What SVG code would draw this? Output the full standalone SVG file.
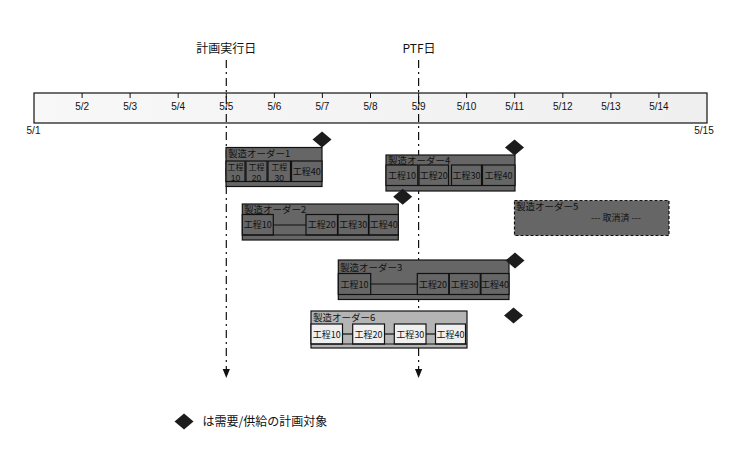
<svg xmlns="http://www.w3.org/2000/svg" xmlns:xlink="http://www.w3.org/1999/xlink" width="754" height="461" viewBox="0 0 754 461">
<style>
  .ax { font-family: "Liberation Sans", Arial, sans-serif; font-size: 10px; fill: #111; text-anchor: middle; }
  .hd { font-family: "Noto Sans CJK JP", "Liberation Sans", sans-serif; font-size: 12px; fill: #111; text-anchor: middle; }
  .ttl { font-family: "Noto Sans CJK JP", "Liberation Sans", sans-serif; font-size: 9.5px; fill: #111; }
  .op { font-family: "Noto Sans CJK JP", "Liberation Sans", sans-serif; font-size: 9px; fill: #111; text-anchor: middle; }
  .op2 { font-family: "Noto Sans CJK JP", "Liberation Sans", sans-serif; font-size: 8px; fill: #111; text-anchor: middle; }
  .num { font-family: "Liberation Sans", Arial, sans-serif; font-size: 8.5px; fill: #111; text-anchor: middle; }
  .lg { font-family: "Noto Sans CJK JP", "Liberation Sans", sans-serif; font-size: 12px; fill: #111; }
  .box { fill: #666666; stroke: #111; stroke-width: 1.2; }
  .boxl { fill: #b4b4b4; stroke: #111; stroke-width: 1.2; }
  .cancel { fill: #666666; stroke: #111; stroke-width: 1.2; stroke-dasharray: 3 2; }
  .opr { fill: #666666; stroke: #111; stroke-width: 1.2; }
  .oprl { fill: #efefef; stroke: #111; stroke-width: 1.2; }
  .sep { stroke: #111; stroke-width: 1.2; fill: none; }
  .link { stroke: #111; stroke-width: 1.2; fill: none; }
  .guide { stroke: #111; stroke-width: 1.2; fill: none; stroke-dasharray: 8 4 2 4; }
  .tick { stroke: #111; stroke-width: 1; }
  .dia { fill: #1c1c1c; }
</style>
<defs>
  <linearGradient id="axg" x1="0" y1="0" x2="1" y2="0">
    <stop offset="0" stop-color="#f8f8f8"/>
    <stop offset="1" stop-color="#efefef"/>
  </linearGradient>
  <path id="dia" d="M0,-8 L9.5,0 L0,8 L-9.5,0 Z"/>
  <marker id="arr" markerUnits="userSpaceOnUse" markerWidth="10" markerHeight="10" refX="9" refY="0" viewBox="0 -4 10 8" orient="auto">
    <path d="M0,-3.6 L9,0 L0,3.6 Z" fill="#111"/>
  </marker>
</defs>

<g id="axis">
  <rect x="34" y="93" width="673" height="30" fill="url(#axg)" stroke="#111" stroke-width="1.2"/>
  <g class="tick">
    <line x1="82.1" y1="93" x2="82.1" y2="98"/>
    <line x1="130.1" y1="93" x2="130.1" y2="98"/>
    <line x1="178.2" y1="93" x2="178.2" y2="98"/>
    <line x1="226.3" y1="93" x2="226.3" y2="98"/>
    <line x1="274.4" y1="93" x2="274.4" y2="98"/>
    <line x1="322.4" y1="93" x2="322.4" y2="98"/>
    <line x1="370.5" y1="93" x2="370.5" y2="98"/>
    <line x1="418.6" y1="93" x2="418.6" y2="98"/>
    <line x1="466.6" y1="93" x2="466.6" y2="98"/>
    <line x1="514.7" y1="93" x2="514.7" y2="98"/>
    <line x1="562.8" y1="93" x2="562.8" y2="98"/>
    <line x1="610.9" y1="93" x2="610.9" y2="98"/>
    <line x1="658.9" y1="93" x2="658.9" y2="98"/>
  </g>
  <text class="ax" x="82.1" y="110">5/2</text>
  <text class="ax" x="130.1" y="110">5/3</text>
  <text class="ax" x="178.2" y="110">5/4</text>
  <text class="ax" x="226.3" y="110">5/5</text>
  <text class="ax" x="274.4" y="110">5/6</text>
  <text class="ax" x="322.4" y="110">5/7</text>
  <text class="ax" x="370.5" y="110">5/8</text>
  <text class="ax" x="418.6" y="110">5/9</text>
  <text class="ax" x="466.6" y="110">5/10</text>
  <text class="ax" x="514.7" y="110">5/11</text>
  <text class="ax" x="562.8" y="110">5/12</text>
  <text class="ax" x="610.9" y="110">5/13</text>
  <text class="ax" x="658.9" y="110">5/14</text>
  <text class="ax" x="33.5" y="134">5/1</text>
  <text class="ax" x="704" y="134">5/15</text>
</g>

<g id="guides">
  <text class="hd" x="226.3" y="53">計画実行日</text>
  <text class="hd" x="419" y="53">PTF日</text>
  <line class="guide" x1="226.3" y1="60" x2="226.3" y2="378" marker-end="url(#arr)"/>
  <line class="guide" x1="418.6" y1="60" x2="418.6" y2="378" marker-end="url(#arr)"/>
</g>

<g id="order1">
  <rect class="box" x="226" y="147.5" width="96" height="39"/>
  <text class="ttl" x="228" y="157">製造オーダー1</text>
  <rect class="opr" x="226" y="161" width="19" height="20.5"/>
  <rect class="opr" x="246" y="161" width="21" height="20.5"/>
  <rect class="opr" x="268" y="161" width="22.5" height="20.5"/>
  <rect class="opr" x="291.5" y="161" width="30.5" height="20.5"/>
  <text class="op2" x="235.5" y="170">工程</text><text class="num" x="235.5" y="181">10</text>
  <text class="op2" x="256.5" y="170">工程</text><text class="num" x="256.5" y="181">20</text>
  <text class="op2" x="279.2" y="170">工程</text><text class="num" x="279.2" y="181">30</text>
  <text class="op" x="306.7" y="174.5">工程40</text>
  <line class="sep" x1="226" y1="181.5" x2="322" y2="181.5"/>
  <use href="#dia" xlink:href="#dia" class="dia" x="322" y="139.5"/>
</g>

<g id="order4">
  <rect class="box" x="386" y="155" width="129" height="36"/>
  <text class="ttl" x="388" y="163.5">製造オーダー4</text>
  <rect class="opr" x="386" y="165" width="31.8" height="20.5"/>
  <rect class="opr" x="419" y="165" width="29.5" height="20.5"/>
  <rect class="opr" x="451.5" y="165" width="30" height="20.5"/>
  <rect class="opr" x="482.5" y="165" width="32.5" height="20.5"/>
  <text class="op" x="402" y="178.5">工程10</text>
  <text class="op" x="433.7" y="178.5">工程20</text>
  <text class="op" x="466.5" y="178.5">工程30</text>
  <text class="op" x="498.5" y="178.5">工程40</text>
  <line class="sep" x1="386" y1="185.5" x2="515" y2="185.5"/>
  <use href="#dia" xlink:href="#dia" class="dia" x="514.5" y="147.5"/>
</g>

<g id="order2">
  <rect class="box" x="242.3" y="204" width="156" height="36"/>
  <text class="ttl" x="244" y="213">製造オーダー2</text>
  <rect class="opr" x="242.3" y="214.5" width="31" height="20.5"/>
  <rect class="opr" x="306" y="214.5" width="31.5" height="20.5"/>
  <rect class="opr" x="338" y="214.5" width="30.5" height="20.5"/>
  <rect class="opr" x="369" y="214.5" width="29.3" height="20.5"/>
  <text class="op" x="257.8" y="228">工程10</text>
  <text class="op" x="321.8" y="228">工程20</text>
  <text class="op" x="353.2" y="228">工程30</text>
  <text class="op" x="383.7" y="228">工程40</text>
  <line class="sep" x1="242.3" y1="235" x2="398.3" y2="235"/>
  <use href="#dia" xlink:href="#dia" class="dia" x="402.7" y="196.7"/>
</g>

<g id="order5">
  <rect class="cancel" x="514.5" y="200.5" width="154.5" height="35"/>
  <text class="ttl" x="516" y="210">製造オーダー5</text>
  <text class="op" x="616" y="220.5">--- 取消済 ---</text>
</g>

<g id="order3">
  <rect class="box" x="338.3" y="260" width="170.7" height="39.5"/>
  <text class="ttl" x="340" y="270.5">製造オーダー3</text>
  <rect class="opr" x="338.3" y="273.5" width="32.4" height="21"/>
  <rect class="opr" x="417.3" y="273.5" width="31.5" height="21"/>
  <rect class="opr" x="449.3" y="273.5" width="31" height="21"/>
  <rect class="opr" x="481" y="273.5" width="28" height="21"/>
  <text class="op" x="354.5" y="287.5">工程10</text>
  <text class="op" x="433" y="287.5">工程20</text>
  <text class="op" x="464.8" y="287.5">工程30</text>
  <text class="op" x="495" y="287.5">工程40</text>
  <line class="sep" x1="338.3" y1="294.5" x2="509" y2="294.5"/>
  <use href="#dia" xlink:href="#dia" class="dia" x="515" y="260.5"/>
</g>

<g id="order6">
  <rect class="boxl" x="311" y="311" width="156" height="37"/>
  <text class="ttl" x="313" y="321">製造オーダー6</text>
  <rect class="oprl" x="311" y="324" width="31.5" height="20"/>
  <rect class="oprl" x="352.7" y="324" width="31.8" height="20"/>
  <rect class="oprl" x="394.3" y="324" width="31.7" height="20"/>
  <rect class="oprl" x="435.5" y="324" width="30" height="20"/>
  <text class="op" x="326.8" y="337.5">工程10</text>
  <text class="op" x="368.6" y="337.5">工程20</text>
  <text class="op" x="410.2" y="337.5">工程30</text>
  <text class="op" x="450.5" y="337.5">工程40</text>
  <line class="sep" x1="311" y1="344" x2="467" y2="344"/>
  <use href="#dia" xlink:href="#dia" class="dia" x="513.5" y="315.5"/>
</g>

<g id="connectors">
  <line class="link" x1="273.3" y1="225" x2="306" y2="225"/>
  <line class="link" x1="370.7" y1="284" x2="417.3" y2="284"/>
  <line class="link" x1="342.5" y1="334" x2="352.7" y2="334"/>
  <line class="link" x1="384.5" y1="334" x2="394.3" y2="334"/>
  <line class="link" x1="426" y1="334" x2="435.5" y2="334"/>
</g>

<g id="legend">
  <use href="#dia" xlink:href="#dia" class="dia" x="184" y="421.5"/>
  <text class="lg" x="202.5" y="426">は需要/供給の計画対象</text>
</g>
</svg>
